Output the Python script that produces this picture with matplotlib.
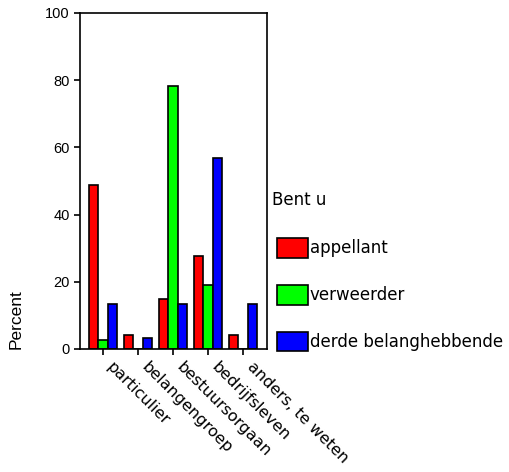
import matplotlib.pyplot as plt
import numpy as np
from matplotlib.patches import Patch
from matplotlib.transforms import ScaledTranslation

categories = ["particulier", "belangengroep", "bestuursorgaan", "bedrijfsleven", "anders, te weten"]
series = ["appellant", "verweerder", "derde belanghebbende"]
appellant = [48.9, 4.3, 14.9, 27.7, 4.3]
verweerder = [2.7, 0.0, 78.4, 18.9, 0.0]
derde = [13.3, 3.3, 13.3, 56.7, 13.3]
colors = ["#ff0000", "#00ff00", "#0000ff"]

plt.rcParams['font.family'] = ['DejaVu Sans']

W, H = 510, 472
fig = plt.figure(figsize=(W / 100, H / 100), dpi=100)
ax = fig.add_axes([80 / W, 1 - 349 / H, 186.7 / W, 336 / H])

x = np.arange(len(categories))
w = 0.27
for i, vals in enumerate([appellant, verweerder, derde]):
    ax.bar(x + (i - 1) * w, vals, width=w, color=colors[i], edgecolor='black', linewidth=1.2, label=series[i])

ax.set_xlim(-0.65, 4.67)
ax.set_ylim(0, 100)
ax.set_yticks([0, 20, 40, 60, 80, 100])
ax.set_yticklabels([str(v) for v in [0, 20, 40, 60, 80, 100]], fontfamily='Liberation Sans', fontsize=10.5)
ax.set_xticks(x)
ax.set_xticklabels(categories, rotation=-45, ha='left', va='center', rotation_mode='anchor', fontsize=11.5)
ax.tick_params(axis='both', direction='out', length=4, width=1.2)
ax.tick_params(axis='x', pad=9)
# nudge the slanted labels a little to the right, like the original
shift = ScaledTranslation(0.06, 0.025, fig.dpi_scale_trans)
for lab in ax.get_xticklabels():
    lab.set_transform(lab.get_transform() + shift)
for s in ax.spines.values():
    s.set_linewidth(1.2)

fig.text(16 / W, 1 - 319 / H, "Percent", rotation=90, ha='center', va='center',
         fontsize=12.5, fontfamily='Liberation Sans')

fig.text(272 / W, 1 - 200 / H, "Bent u", ha='left', va='center', fontsize=12)
handles = [Patch(facecolor=c, edgecolor='black', linewidth=1.2) for c in colors]
leg = fig.legend(handles, series, loc='upper left', bbox_to_anchor=(277 / W, 1 - 238 / H),
                 frameon=False, fontsize=12, handlelength=1.86, handleheight=1.45,
                 handletextpad=0.12, labelspacing=1.62, borderpad=0, borderaxespad=0)

fig.savefig("out.png", dpi=100)
